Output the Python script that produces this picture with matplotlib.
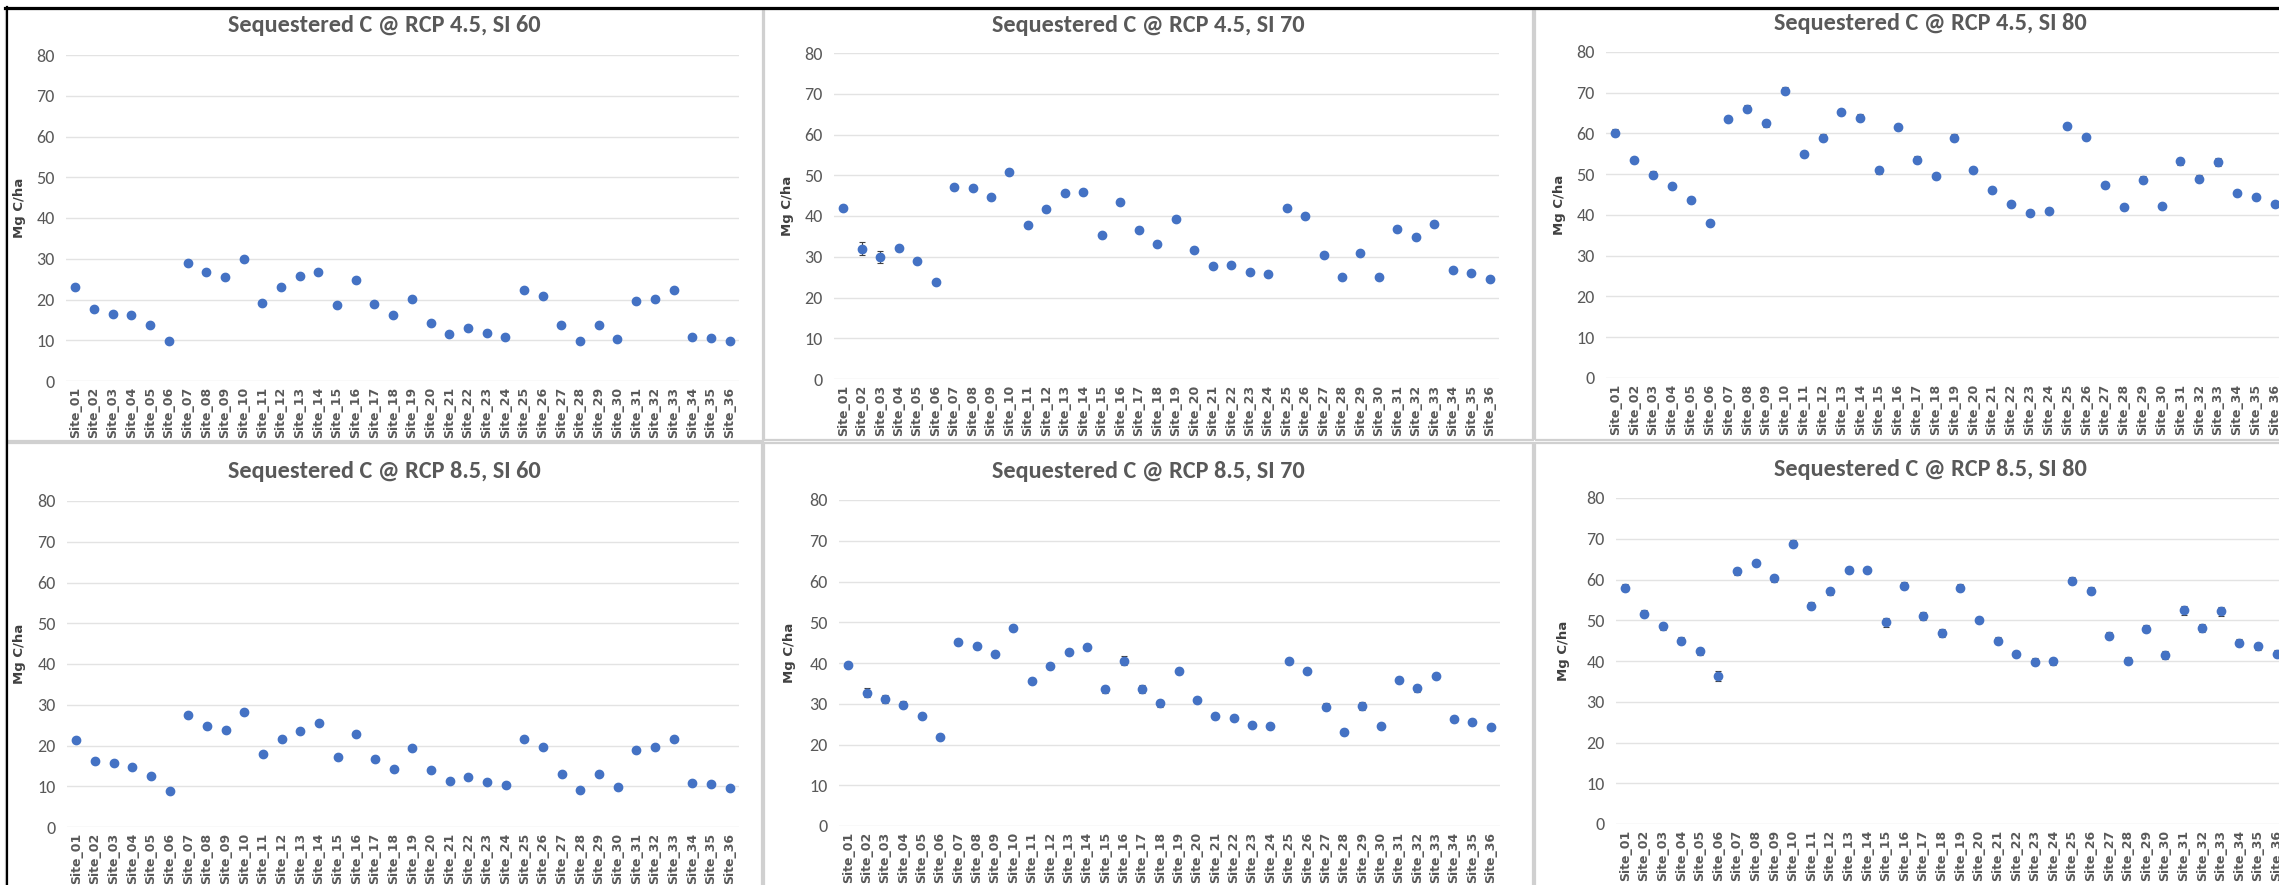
import matplotlib.pyplot as plt
from matplotlib.lines import Line2D
from matplotlib.patches import Rectangle

W, H = 2279, 885

sites = [f"Site_{i:02d}" for i in range(1, 37)]

# Mg C/ha per site
rcp45_si60 = [23.0, 17.7, 16.5, 16.3, 13.7, 9.8, 28.9, 26.8, 25.6, 30.0, 19.2, 23.0,
              25.7, 26.8, 18.6, 24.9, 18.8, 16.1, 20.1, 14.2, 11.5, 13.1, 11.7, 10.9,
              22.4, 20.9, 13.8, 9.8, 13.7, 10.2, 19.6, 20.1, 22.3, 10.9, 10.6, 9.7]
rcp45_si70 = [42.0, 32.0, 29.9, 32.1, 29.0, 23.7, 47.0, 46.9, 44.6, 50.9, 37.7, 41.6,
              45.6, 45.8, 35.3, 43.5, 36.6, 33.2, 39.3, 31.7, 27.8, 28.0, 26.2, 25.8,
              42.0, 40.0, 30.5, 25.1, 30.8, 25.1, 36.9, 34.9, 38.1, 26.7, 26.0, 24.6]
rcp45_si80 = [60.2, 53.5, 49.9, 47.0, 43.6, 38.1, 63.6, 66.1, 62.5, 70.5, 55.0, 59.0,
              65.3, 63.9, 51.0, 61.6, 53.6, 49.6, 59.0, 51.0, 46.1, 42.6, 40.6, 41.1,
              61.8, 59.1, 47.4, 41.9, 48.7, 42.1, 53.2, 48.9, 53.0, 45.3, 44.5, 42.6]
rcp85_si60 = [21.3, 16.2, 15.6, 14.7, 12.6, 8.8, 27.4, 24.8, 23.8, 28.2, 18.0, 21.5,
              23.5, 25.5, 17.1, 22.9, 16.8, 14.3, 19.4, 14.0, 11.3, 12.2, 11.0, 10.2,
              21.5, 19.6, 13.1, 9.1, 13.1, 9.9, 18.9, 19.6, 21.5, 10.8, 10.5, 9.6]
rcp85_si70 = [39.5, 32.7, 31.1, 29.8, 27.1, 21.8, 45.2, 44.1, 42.2, 48.6, 35.7, 39.2,
              42.7, 43.9, 33.5, 40.6, 33.6, 30.1, 38.1, 31.0, 26.9, 26.6, 24.9, 24.5,
              40.4, 38.0, 29.3, 23.1, 29.5, 24.5, 35.8, 33.8, 36.9, 26.3, 25.5, 24.3]
rcp85_si80 = [58.0, 51.6, 48.5, 45.0, 42.4, 36.4, 62.0, 64.0, 60.3, 68.8, 53.6, 57.1,
              62.3, 62.3, 49.5, 58.5, 51.1, 46.9, 58.0, 50.1, 45.0, 41.7, 39.8, 39.9,
              59.7, 57.3, 46.2, 40.1, 47.9, 41.5, 52.5, 48.1, 52.2, 44.5, 43.6, 41.8]

# error bars (mostly hidden behind the markers)
err_45_60 = [0.4, 0.5, 0.4, 0.4, 0.4, 0.3, 0.5, 0.4, 0.4, 0.5, 0.4, 0.4,
             0.4, 0.4, 0.4, 0.4, 0.4, 0.4, 0.4, 0.4, 0.3, 0.3, 0.3, 0.3,
             0.4, 0.4, 0.3, 0.3, 0.3, 0.3, 0.4, 0.4, 0.4, 0.3, 0.3, 0.3]
err_45_70 = [0.6, 1.6, 1.4, 0.6, 0.6, 0.5, 0.6, 0.6, 0.6, 0.6, 0.6, 0.6,
             0.6, 0.6, 0.6, 0.6, 0.6, 0.6, 0.6, 0.6, 0.5, 0.5, 0.5, 0.5,
             0.6, 0.6, 0.6, 0.5, 0.6, 0.5, 0.6, 0.6, 0.6, 0.5, 0.5, 0.5]
err_45_80 = [0.8, 0.8, 0.8, 0.7, 0.7, 0.7, 0.8, 0.8, 0.8, 0.8, 0.8, 0.8,
             0.8, 0.8, 0.9, 0.8, 0.9, 0.8, 0.8, 0.7, 0.7, 0.7, 0.7, 0.7,
             0.8, 0.8, 0.8, 0.7, 0.8, 0.7, 0.9, 0.9, 0.9, 0.7, 0.7, 0.7]
err_85_60 = [0.4, 0.4, 0.4, 0.4, 0.4, 0.3, 0.5, 0.4, 0.4, 0.5, 0.4, 0.4,
             0.4, 0.4, 0.4, 0.4, 0.4, 0.4, 0.4, 0.4, 0.3, 0.3, 0.3, 0.3,
             0.4, 0.4, 0.3, 0.3, 0.3, 0.3, 0.4, 0.4, 0.4, 0.3, 0.3, 0.3]
err_85_70 = [0.7, 1.1, 1.0, 0.9, 0.7, 0.7, 0.7, 0.7, 0.7, 0.7, 0.7, 0.7,
             0.7, 0.7, 0.9, 1.0, 1.0, 0.8, 0.7, 0.7, 0.7, 0.7, 0.7, 0.7,
             0.7, 0.7, 0.8, 0.7, 1.0, 0.7, 0.7, 0.8, 0.7, 0.7, 0.7, 0.7]
err_85_80 = [0.9, 0.9, 0.9, 0.9, 0.9, 1.2, 0.8, 0.8, 0.8, 0.8, 0.8, 0.8,
             0.8, 0.8, 1.1, 0.9, 1.0, 0.9, 0.8, 0.8, 0.8, 0.8, 0.9, 0.8,
             0.8, 0.8, 0.8, 0.8, 0.9, 0.9, 1.1, 1.1, 1.1, 0.8, 0.8, 0.8]

panels = [
    ("Sequestered C @ RCP 4.5, SI 60", rcp45_si60, err_45_60),
    ("Sequestered C @ RCP 4.5, SI 70", rcp45_si70, err_45_70),
    ("Sequestered C @ RCP 4.5, SI 80", rcp45_si80, err_45_80),
    ("Sequestered C @ RCP 8.5, SI 60", rcp85_si60, err_85_60),
    ("Sequestered C @ RCP 8.5, SI 70", rcp85_si70, err_85_70),
    ("Sequestered C @ RCP 8.5, SI 80", rcp85_si80, err_85_80),
]

# pixel boxes: plot area (left, top, right, bottom), chart frame, title y
plot_boxes = [(66, 55, 739, 381), (834, 53, 1499, 379), (1606, 52, 2284, 378),
              (67, 501, 739, 827), (839, 500, 1500, 826), (1616, 498, 2286, 824)]
frames = [(6, 9, 763, 441), (764, 9, 1533, 440), (1535, 9, 2330, 440),
          (6, 443, 762, 892), (764, 443, 1533, 892), (1535, 443, 2330, 892)]
title_y = [26, 25, 24, 472, 471, 470]
ylabel_x = [20, 788, 1560, 20, 789, 1563]

calib = ['Carlito', 'DejaVu Sans']
grey = '#595959'
blue = '#4472C4'


def fig_box(l, t, r, b):
    return [l / W, 1 - b / H, (r - l) / W, (b - t) / H]


fig = plt.figure(figsize=(W / 100, H / 100), dpi=100)

for (title, vals, errs), box, frame, ty, yx in zip(panels, plot_boxes, frames, title_y, ylabel_x):
    l, t, r, b = frame
    fig.add_artist(Rectangle((l / W, 1 - b / H), (r - l) / W, (b - t) / H,
                             transform=fig.transFigure, fill=False,
                             edgecolor='#d0d0d0', linewidth=1.6))
    fig.text((l + r) / 2 / W if r < W else (l + 2325) / 2 / W, 1 - ty / H, title,
             ha='center', va='center', fontsize=17.5, fontweight='bold',
             color=grey, family=calib)

    ax = fig.add_axes(fig_box(*box))
    ax.errorbar(range(len(sites)), vals, yerr=errs, fmt='o', color=blue,
                markersize=6, ecolor='#404040', elinewidth=0.8, capsize=2.5,
                capthick=0.8, zorder=3, clip_on=False)
    ax.set_xlim(-0.5, len(sites) - 0.5)
    ax.set_ylim(0, 80)
    ax.set_yticks(range(0, 81, 10))
    ax.set_xticks(range(len(sites)))
    ax.set_xticklabels(sites, rotation=90, fontsize=9, fontweight='bold',
                       color=grey)
    for lab in ax.get_yticklabels():
        lab.set_family(calib)
        lab.set_fontsize(13)
        lab.set_color(grey)
    ax.tick_params(axis='x', length=0, pad=4)
    ax.tick_params(axis='y', length=0, pad=8)
    ax.grid(axis='y', color='#e3e3e3', linewidth=1.0)
    ax.set_axisbelow(True)
    for s in ax.spines.values():
        s.set_visible(False)
    bl, bt, br, bb = box
    fig.text(yx / W, 1 - ((bt + bb) / 2 - 10) / H, "Mg C/ha", rotation=90,
             ha='center', va='center', fontsize=9.5, fontweight='bold', color='#404040')

# black screenshot edges at top and left
fig.add_artist(Line2D([5 / W, 1], [1 - 8 / H, 1 - 8 / H], transform=fig.transFigure,
                      color='black', linewidth=2.3))
fig.add_artist(Line2D([6.5 / W, 6.5 / W], [0, 1 - 7 / H], transform=fig.transFigure,
                      color='black', linewidth=1.6))

fig.savefig("out.png", dpi=100)
